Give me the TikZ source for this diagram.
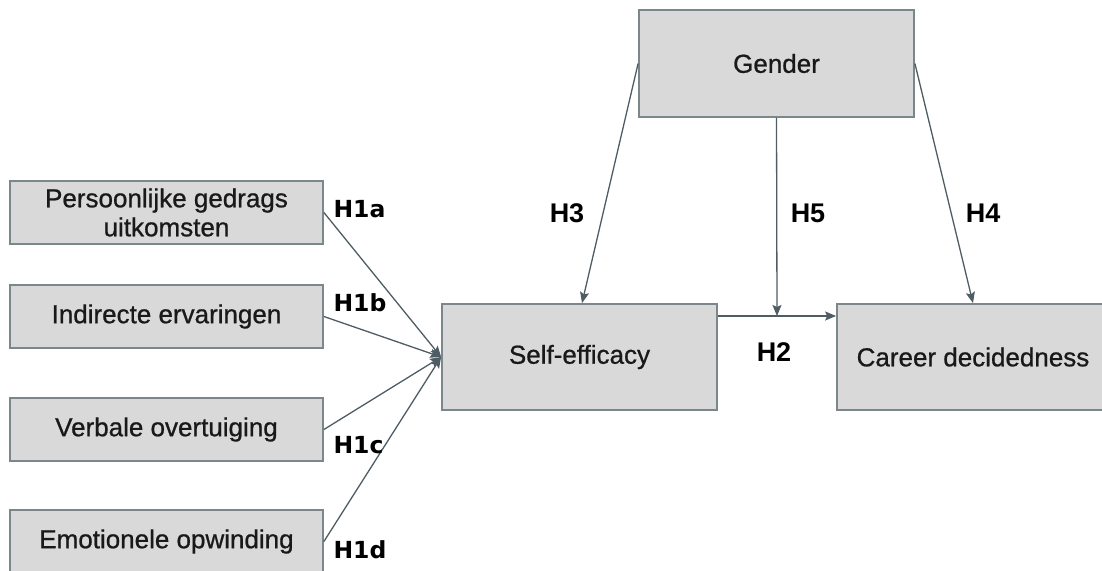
\documentclass[tikz,border=0pt]{standalone}
\usepackage{fontspec}
\setmainfont{Liberation Sans}
\newfontfamily\boxfont[FakeBold=0.8]{Liberation Sans}
\newfontfamily\hfont{DejaVu Sans}
\usetikzlibrary{arrows.meta}
\definecolor{boxfill}{HTML}{D9D9D9}
\definecolor{boxline}{HTML}{7C878C}
\definecolor{arrowcol}{HTML}{4E5C64}
\begin{document}
\begin{tikzpicture}[x=1pt, y=-1pt, >={Stealth[length=11pt, width=9pt, inset=2pt]},
  factor/.style={draw=boxline, line width=1.8pt, fill=boxfill, inner sep=0pt,
    align=center, text=black!90, font=\fontsize{26}{29}\selectfont\boxfont},
  hyp/.style={font=\fontsize{27}{29}\selectfont\bfseries},
  hypone/.style={font=\fontsize{23.5}{26}\selectfont\hfont\bfseries, anchor=west},
  link/.style={->, draw=arrowcol, line width=1.3pt}]
  \useasboundingbox (0,0) rectangle (1102,570);
  % Bronnen van self-efficacy
  \node[factor, minimum width=313pt, minimum height=63pt] (pgu) at (166.5,212.5) {Persoonlijke gedrags\\uitkomsten};
  \node[factor, minimum width=313pt, minimum height=63pt] (ie) at (166.5,316.5) {Indirecte ervaringen};
  \node[factor, minimum width=313pt, minimum height=63pt] (vo) at (166.5,429.5) {Verbale overtuiging};
  \node[factor, minimum width=313pt, minimum height=63pt] (eo) at (166.5,541.5) {Emotionele opwinding};
  % Self-efficacy, gender, career decidedness
  \node[factor, minimum width=275pt, minimum height=106pt] (se) at (579.5,357) {Self-efficacy};
  \node[factor, minimum width=275pt, minimum height=107pt] (gender) at (776.5,63.5) {Gender};
  \node[factor, minimum width=272pt, minimum height=106pt] (cd) at (973,357) {Career decidedness};
  \coordinate (mod) at (777,316);
  % H1a - H1d
  \draw[link] (pgu.east) -- (se.west);
  \draw[link] (ie.east) -- (se.west);
  \draw[link] (vo.east) -- (se.west);
  \draw[link] (eo.east) -- (se.west);
  \node[hypone] (h1a) at (330,209) {H1a};
  \node[hypone] (h1b) at (330,303) {H1b};
  \node[hypone] (h1c) at (330,445) {H1c};
  \node[hypone] (h1d) at (330,550) {H1d};
  % H2 met moderatie door gender
  \draw[link] (se.east |- mod) -- (cd.west |- mod);
  \draw[link] (gender.south) -- (mod);
  \node[hyp] (h2) at (774,352) {H2};
  \node[hyp] (h5) at (808,213) {H5};
  % H3 en H4
  \draw[link] (gender.west) -- ([xshift=2.5pt]se.north);
  \draw[link] (gender.east) -- (cd.north);
  \node[hyp] (h3) at (567,213) {H3};
  \node[hyp] (h4) at (983,213) {H4};
\end{tikzpicture}
\end{document}
